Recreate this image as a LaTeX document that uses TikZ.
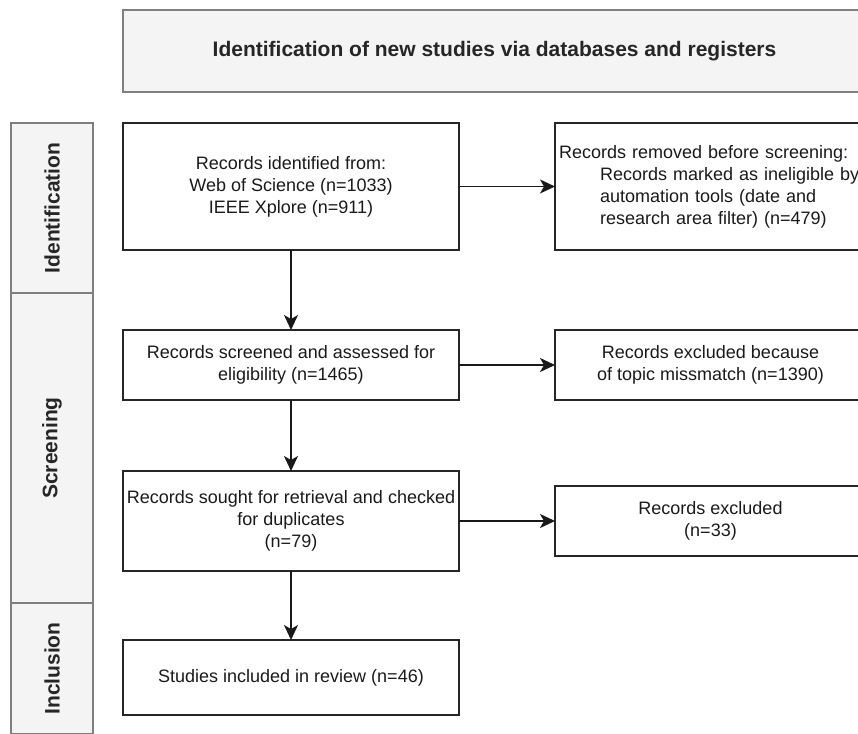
\documentclass[tikz,border=0pt]{standalone}
\usepackage{fontspec}
\setmainfont{Liberation Sans}
\usetikzlibrary{arrows.meta}
\definecolor{panelfill}{HTML}{F4F4F4}
\definecolor{panelline}{HTML}{7F7F7F}
\definecolor{txt}{HTML}{1A1A1A}
\begin{document}
\begin{tikzpicture}[x=1pt,y=-1pt,
  boxstyle/.style={draw=black!85, line width=1.8pt, fill=white, text=txt,
    font=\fontsize{18}{22}\selectfont, align=center, inner sep=3pt, outer sep=0pt},
  panel/.style={draw=panelline, line width=1.8pt, fill=panelfill, text=black!85,
    font=\bfseries\fontsize{21}{25}\selectfont, inner sep=0pt, outer sep=0pt},
  panellabel/.style={text=black!85, font=\bfseries\fontsize{21}{25}\selectfont,
    inner sep=0pt, rotate=90},
  flow/.style={draw=black!90, line width=1.6pt, -{Stealth[length=15pt,width=14pt,inset=4pt]}}]
\useasboundingbox (0,0) rectangle (858,733);
\clip (0,0) rectangle (858,733);
% header
\node[panel, minimum width=743pt, minimum height=82pt] (head) at (494.5,51)
  {Identification of new studies via databases and registers};
% side panels
\node[panel, minimum width=82pt, minimum height=170pt] (sid) at (52,208) {};
\node[panellabel] (sidlabel) at (sid.center) {Identification};
\node[panel, minimum width=82pt, minimum height=310pt] (sscr) at (52,448) {};
\node[panellabel] (sscrlabel) at (sscr.center) {Screening};
\node[panel, minimum width=82pt, minimum height=131pt] (sinc) at (52,668.5) {};
\node[panellabel] (sinclabel) at (sinc.center) {Inclusion};
% main boxes
\node[boxstyle, minimum width=336pt, minimum height=127pt] (a) at (291,186.5)
  {Records identified from:\\Web of Science (n=1033)\\IEEE Xplore (n=911)};
\node[boxstyle, minimum width=311pt, minimum height=127pt, text width=303pt, align=left, inner xsep=4pt] (b) at (710.5,186.5)
  {Records removed before screening:\\\hspace*{41pt}Records marked as ineligible by\\\hspace*{41pt}automation tools (date and\\\hspace*{41pt}research area filter) (n=479)};
\node[boxstyle, minimum width=336pt, minimum height=70pt] (c) at (291,365)
  {Records screened and assessed for\\eligibility (n=1465)};
\node[boxstyle, minimum width=311pt, minimum height=70pt] (d) at (710.5,365)
  {Records excluded because\\of topic missmatch (n=1390)};
\node[boxstyle, minimum width=336pt, minimum height=100pt] (e) at (291,521)
  {Records sought for retrieval and checked\\for duplicates\\(n=79)};
\node[boxstyle, minimum width=311pt, minimum height=70pt] (f) at (710.5,521)
  {Records excluded\\(n=33)};
\node[boxstyle, minimum width=336pt, minimum height=75pt] (g) at (291,677.5)
  {Studies included in review (n=46)};
% connectors
\draw[flow] (a.east) -- (b.west);
\draw[flow] (c.east) -- (d.west);
\draw[flow] (e.east) -- (f.west);
\draw[flow] (a.south) -- (c.north);
\draw[flow] (c.south) -- (e.north);
\draw[flow] (e.south) -- (g.north);
\end{tikzpicture}
\end{document}
